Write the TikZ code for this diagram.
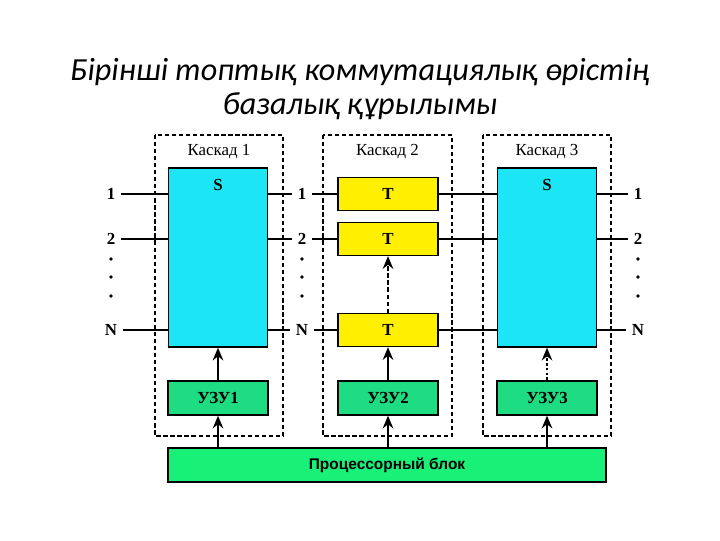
\documentclass[tikz,border=0pt]{standalone}
\usepackage{fontspec}
\setmainfont{Liberation Serif}
\newfontfamily\titlefont{Carlito}
\newfontfamily\procfont{Liberation Sans}
\usetikzlibrary{arrows.meta}
\definecolor{scyan}{RGB}{28,230,245}
\definecolor{tyellow}{RGB}{255,240,0}
\definecolor{memgreen}{RGB}{30,220,130}
\definecolor{cpugreen}{RGB}{25,240,120}
\tikzstyle{stage} = [line width=1.1pt, dash pattern=on 3pt off 2pt]
\tikzstyle{blk} = [draw, line width=1pt, inner sep=0pt, font=\bfseries\fontsize{12}{14}\selectfont]
\tikzstyle{sbox} = [blk, fill=scyan, minimum width=2.475cm, minimum height=4.475cm]
\tikzstyle{tbox} = [blk, fill=tyellow, minimum width=2.5cm, minimum height=0.825cm]
\tikzstyle{mem} = [blk, fill=memgreen, minimum width=2.5cm, minimum height=0.85cm]
\tikzstyle{lab} = [font=\bfseries\fontsize{12}{14}\selectfont, inner sep=4pt]
\tikzstyle{arrow} = [line width=1.3pt, -{Stealth[length=9pt,width=7.5pt]}]
\tikzstyle{wire} = [line width=0.8pt]

\begin{document}
\begin{tikzpicture}[x=0.025cm,y=-0.025cm]
    \useasboundingbox (0,0) rectangle (720,540);
    % title
    \node (title1) at (360,72) {\titlefont\itshape\fontsize{22.9}{27}\selectfont Бірінші топтық коммутациялық өрістің};
    \node (title2) at (360,106) {\titlefont\itshape\fontsize{22.9}{27}\selectfont базалық құрылымы};
    % stages
    \foreach \xa/\xb/\n in {155/283/1,323/452/2,483/611/3}{
        \draw[stage] (\xa,135) rectangle (\xb,436);
        \node[font=\fontsize{12}{14}\selectfont] (cap\n) at ({(\xa+\xb)/2},152) {Каскад \n};
    }
    % switching blocks
    \node[sbox] (s1) at (218,257.5) {};
    \node[lab] (s1lab) at (218,185) {S};
    \node[sbox] (s3) at (547,257.5) {};
    \node[lab] (s3lab) at (547,185) {S};
    \node[tbox] (t1) at (388,194) {T};
    \node[tbox] (t2) at (388,239) {T};
    \node[tbox] (t3) at (388,330) {T};
    % memory and processor
    \node[mem] (u1) at (218,398) {УЗУ1};
    \node[mem] (u2) at (388,398) {УЗУ2};
    \node[mem] (u3) at (547,398) {УЗУ3};
    \node[blk, fill=cpugreen, minimum width=10.95cm, minimum height=0.85cm,
        font=\procfont\bfseries\fontsize{11}{13}\selectfont] (cpu) at (387,465) {Процессорный блок};
    % inputs and outputs
    \foreach \y/\t/\n in {194/1/a,239/2/b,330/N/c}{
        \node[lab] (l\n) at (111,\y) {\t};
        \node[lab] (m\n) at (302,\y) {\t};
        \node[lab] (r\n) at (638,\y) {\t};
        \draw[wire] (l\n) -- (l\n -| s1.west);
        \draw[wire] (s1.east |- m\n) -- (m\n);
        \draw[wire] (m\n) -- (m\n -| t1.west);
        \draw[wire] (s3.east |- r\n) -- (r\n);
    }
    \foreach \t in {t1,t2,t3}
        \draw[wire] (\t.east) -- (\t -| s3.west);
    \foreach \x in {111,302,638}
        \foreach \y in {259,277,296}
            \fill (\x,\y) circle (1.3pt);
    % control
    \draw[arrow] (u1) -- (s1);
    \draw[arrow] (u2) -- (t3);
    \draw[arrow, dash pattern=on 3pt off 2pt] (t3) -- (t2);
    \draw[arrow, dash pattern=on 2pt off 1.5pt] (u3) -- (s3);
    \foreach \u in {u1,u2,u3}
        \draw[arrow] (cpu.north -| \u) -- (\u);
\end{tikzpicture}
\end{document}
